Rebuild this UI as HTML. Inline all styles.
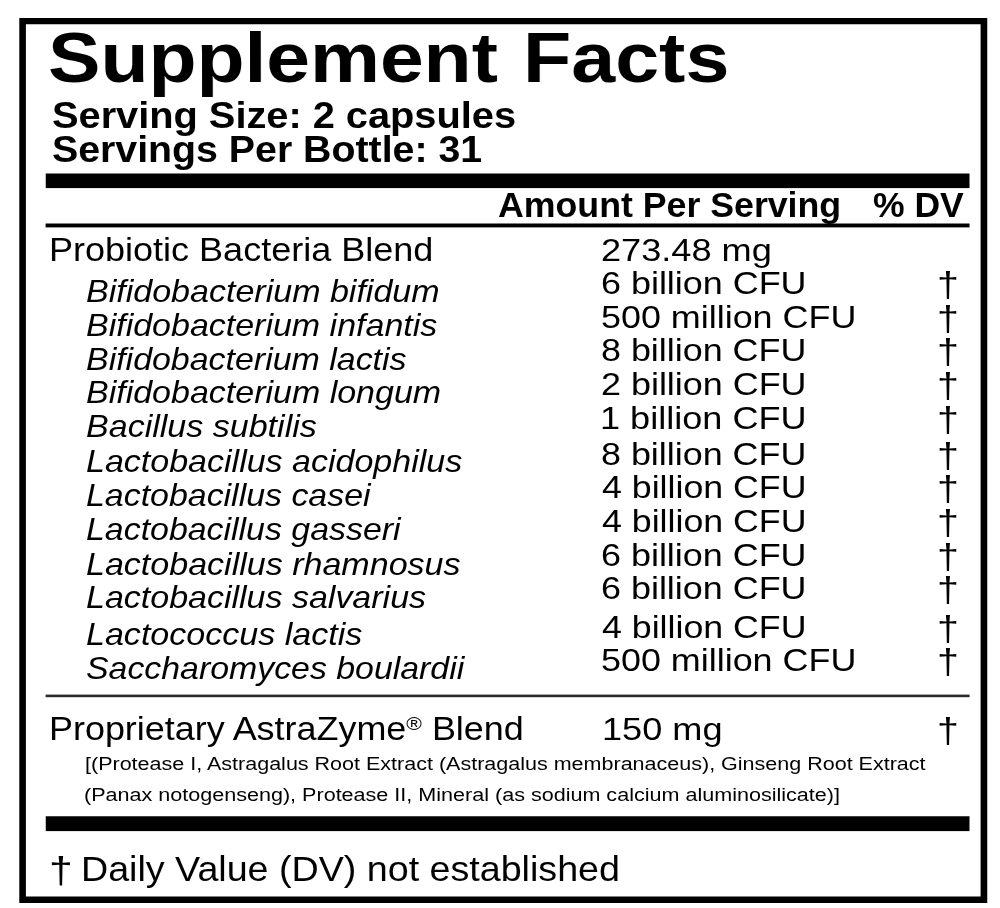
<!DOCTYPE html>
<html lang="en">
<head>
<meta charset="utf-8">
<title>Supplement Facts</title>
<style>
html,body{margin:0;padding:0;background:#fff;}
body{width:1000px;height:908px;position:relative;overflow:hidden;font-family:"Liberation Sans",Arial,Helvetica,sans-serif;color:#000;}
.lines{position:absolute;left:0;top:0;display:block;}
.t{position:absolute;will-change:transform;white-space:nowrap;line-height:1;transform-origin:0 0;margin:0;padding:0;}
.g{margin:0;padding:0;font-size:0;line-height:0;font-weight:normal;}
.b{font-weight:bold;}
.i{font-style:italic;}
sup.r{font-size:59%;vertical-align:baseline;position:relative;top:-0.52em;line-height:0;}
</style>
</head>
<body>
<svg class="lines" width="1000" height="908" viewBox="0 0 1000 908" aria-hidden="true">
<path fill="#000" fill-rule="evenodd" d="M19.3 18.1H987.25V903H19.3ZM25.9 24.35H980.6V896.6H25.9Z"/>
<rect x="45.75" y="173.50" width="923.75" height="14.60" fill="#000"/>
<rect x="45.60" y="223.50" width="923.90" height="3.90" fill="#000"/>
<rect x="45.60" y="694.60" width="924.00" height="2.60" fill="#2b2b2b"/>
<rect x="45.75" y="816.25" width="923.75" height="14.85" fill="#000"/>
</svg>
<h1 class="g"><span class="t b" style="left:47.94px;top:23.00px;font-size:70.50px;transform:scaleX(1.1149) skewX(.05deg)">Supplement</span> <span class="t b" style="left:522.52px;top:23.00px;font-size:70.50px;transform:scaleX(1.1204) skewX(.05deg)">Facts</span></h1>
<div class="t b" style="left:52.45px;top:97.71px;font-size:36.30px;transform:scaleX(1.0953) skewX(.05deg)">Serving Size: 2 capsules</div>
<div class="t b" style="left:52.01px;top:131.60px;font-size:36.30px;transform:scaleX(1.0823) skewX(.05deg)">Servings Per Bottle: 31</div>
<div class="t b" style="left:498.49px;top:187.60px;font-size:34.50px;transform:scaleX(1.0347) skewX(.05deg)">Amount Per Serving</div>
<div class="t b" style="left:872.73px;top:187.61px;font-size:34.50px;transform:scaleX(1.0295) skewX(.05deg)">% DV</div>
<div class="t" style="left:48.89px;top:233.71px;font-size:32.60px;transform:scaleX(1.1052) skewX(.05deg)">Probiotic Bacteria Blend</div>
<div class="t" style="left:601.14px;top:234.51px;font-size:31.20px;transform:scaleX(1.1588) skewX(.05deg)">273.48 mg</div>
<div class="t i" style="left:85.95px;top:275.05px;font-size:32.00px;transform:scaleX(1.0632) skewX(.05deg)">Bifidobacterium bifidum</div>
<div class="t i" style="left:85.81px;top:308.80px;font-size:32.00px;transform:scaleX(1.0618) skewX(.05deg)">Bifidobacterium infantis</div>
<div class="t i" style="left:85.82px;top:342.55px;font-size:32.00px;transform:scaleX(1.0602) skewX(.05deg)">Bifidobacterium lactis</div>
<div class="t i" style="left:85.95px;top:376.30px;font-size:32.00px;transform:scaleX(1.0620) skewX(.05deg)">Bifidobacterium longum</div>
<div class="t i" style="left:85.81px;top:410.30px;font-size:32.00px;transform:scaleX(1.0636) skewX(.05deg)">Bacillus subtilis</div>
<div class="t i" style="left:85.81px;top:444.55px;font-size:32.00px;transform:scaleX(1.0628) skewX(.05deg)">Lactobacillus acidophilus</div>
<div class="t i" style="left:85.96px;top:478.80px;font-size:32.00px;transform:scaleX(1.0593) skewX(.05deg)">Lactobacillus casei</div>
<div class="t i" style="left:85.96px;top:513.30px;font-size:32.00px;transform:scaleX(1.0589) skewX(.05deg)">Lactobacillus gasseri</div>
<div class="t i" style="left:85.81px;top:547.55px;font-size:32.00px;transform:scaleX(1.0634) skewX(.05deg)">Lactobacillus rhamnosus</div>
<div class="t i" style="left:85.81px;top:580.80px;font-size:32.00px;transform:scaleX(1.0621) skewX(.05deg)">Lactobacillus salvarius</div>
<div class="t i" style="left:85.81px;top:618.30px;font-size:32.00px;transform:scaleX(1.0638) skewX(.05deg)">Lactococcus lactis</div>
<div class="t i" style="left:86.04px;top:652.05px;font-size:32.00px;transform:scaleX(1.0579) skewX(.05deg)">Saccharomyces boulardii</div>
<div class="t" style="left:600.90px;top:267.76px;font-size:31.20px;transform:scaleX(1.1512) skewX(.05deg)">6 billion CFU</div>
<div class="t" style="left:936.60px;top:267.81px;font-size:35.50px;transform:scaleX(1.1074) skewX(.05deg)">†</div>
<div class="t" style="left:601.40px;top:301.51px;font-size:31.20px;transform:scaleX(1.1509) skewX(.05deg)">500 million CFU</div>
<div class="t" style="left:936.60px;top:301.56px;font-size:35.50px;transform:scaleX(1.1074) skewX(.05deg)">†</div>
<div class="t" style="left:601.38px;top:335.26px;font-size:31.20px;transform:scaleX(1.1503) skewX(.05deg)">8 billion CFU</div>
<div class="t" style="left:936.60px;top:335.31px;font-size:35.50px;transform:scaleX(1.1074) skewX(.05deg)">†</div>
<div class="t" style="left:600.99px;top:369.01px;font-size:31.20px;transform:scaleX(1.1514) skewX(.05deg)">2 billion CFU</div>
<div class="t" style="left:936.60px;top:369.06px;font-size:35.50px;transform:scaleX(1.1074) skewX(.05deg)">†</div>
<div class="t" style="left:600.09px;top:402.76px;font-size:31.20px;transform:scaleX(1.1571) skewX(.05deg)">1 billion CFU</div>
<div class="t" style="left:936.60px;top:402.81px;font-size:35.50px;transform:scaleX(1.1074) skewX(.05deg)">†</div>
<div class="t" style="left:601.38px;top:438.51px;font-size:31.20px;transform:scaleX(1.1503) skewX(.05deg)">8 billion CFU</div>
<div class="t" style="left:936.60px;top:438.56px;font-size:35.50px;transform:scaleX(1.1074) skewX(.05deg)">†</div>
<div class="t" style="left:601.96px;top:472.26px;font-size:31.20px;transform:scaleX(1.1452) skewX(.05deg)">4 billion CFU</div>
<div class="t" style="left:936.60px;top:472.31px;font-size:35.50px;transform:scaleX(1.1074) skewX(.05deg)">†</div>
<div class="t" style="left:601.96px;top:506.01px;font-size:31.20px;transform:scaleX(1.1452) skewX(.05deg)">4 billion CFU</div>
<div class="t" style="left:936.60px;top:506.06px;font-size:35.50px;transform:scaleX(1.1074) skewX(.05deg)">†</div>
<div class="t" style="left:600.90px;top:539.76px;font-size:31.20px;transform:scaleX(1.1512) skewX(.05deg)">6 billion CFU</div>
<div class="t" style="left:936.60px;top:539.81px;font-size:35.50px;transform:scaleX(1.1074) skewX(.05deg)">†</div>
<div class="t" style="left:600.90px;top:573.26px;font-size:31.20px;transform:scaleX(1.1512) skewX(.05deg)">6 billion CFU</div>
<div class="t" style="left:936.60px;top:573.31px;font-size:35.50px;transform:scaleX(1.1074) skewX(.05deg)">†</div>
<div class="t" style="left:601.96px;top:611.51px;font-size:31.20px;transform:scaleX(1.1452) skewX(.05deg)">4 billion CFU</div>
<div class="t" style="left:936.60px;top:611.56px;font-size:35.50px;transform:scaleX(1.1074) skewX(.05deg)">†</div>
<div class="t" style="left:601.40px;top:645.26px;font-size:31.20px;transform:scaleX(1.1509) skewX(.05deg)">500 million CFU</div>
<div class="t" style="left:936.60px;top:645.31px;font-size:35.50px;transform:scaleX(1.1074) skewX(.05deg)">†</div>
<div class="t" style="left:48.93px;top:712.71px;font-size:32.60px;transform:scaleX(1.1025) skewX(.05deg)">Proprietary AstraZyme<sup class="r">®</sup> Blend</div>
<div class="t" style="left:601.54px;top:713.51px;font-size:31.20px;transform:scaleX(1.1589) skewX(.05deg)">150 mg</div>
<div class="t" style="left:936.60px;top:713.56px;font-size:35.50px;transform:scaleX(1.1074) skewX(.05deg)">†</div>
<div class="t" style="left:85.06px;top:755.00px;font-size:18.90px;transform:scaleX(1.1388) skewX(.05deg)">[(Protease I, Astragalus Root Extract (Astragalus membranaceus), Ginseng Root Extract</div>
<div class="t" style="left:84.49px;top:785.50px;font-size:18.90px;transform:scaleX(1.1410) skewX(.05deg)">(Panax notogenseng), Protease II, Mineral (as sodium calcium aluminosilicate)]</div>
<div class="t" style="left:49.44px;top:852.11px;font-size:37.40px;transform:scaleX(1.1422) skewX(.05deg)">†</div>
<div class="t" style="left:81.49px;top:851.51px;font-size:34.30px;transform:scaleX(1.0972) skewX(.05deg)">Daily Value (DV) not established</div>
</body>
</html>
